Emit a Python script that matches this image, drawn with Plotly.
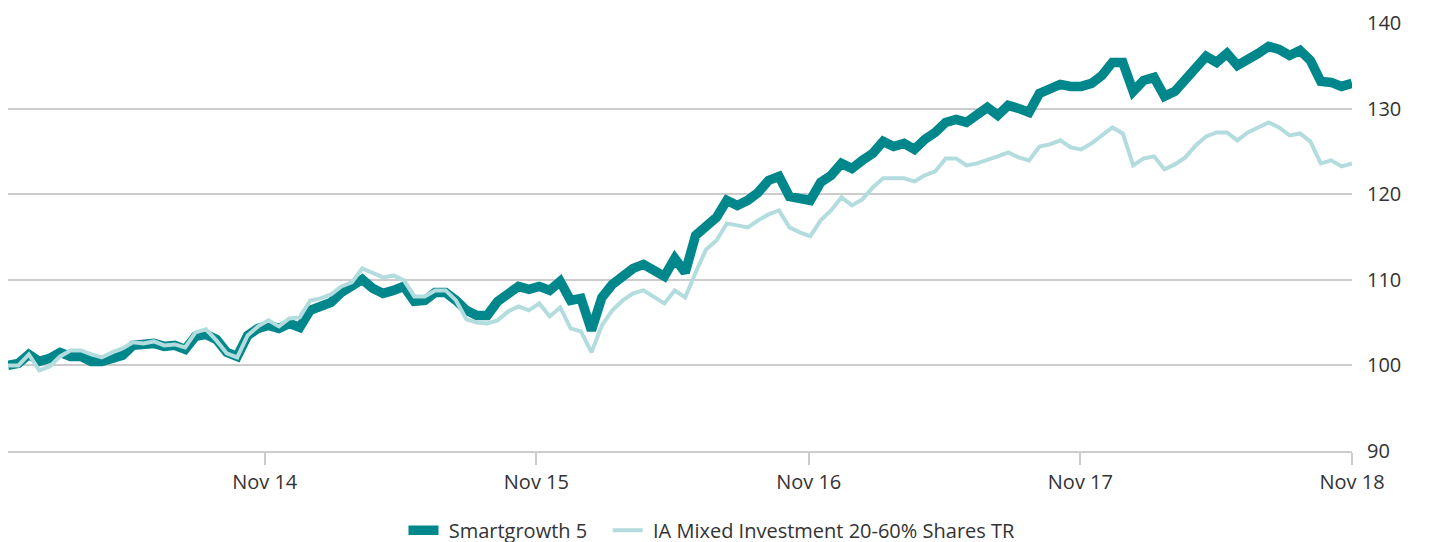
import pandas as pd
import plotly.graph_objects as go

# Fortnightly observation dates
dates = pd.date_range("2013-12-06", periods=130, freq="14D")

smartgrowth_5 = [
    100.00, 100.23, 101.29, 100.47, 100.82, 101.52, 101.05, 101.05, 100.47, 100.47,
    100.82, 101.17, 102.34, 102.45, 102.57, 102.22, 102.34, 101.87, 103.39, 103.62,
    103.04, 101.52, 101.05, 103.50, 104.32, 104.67, 104.32, 104.91, 104.44, 106.43,
    106.78, 107.36, 108.53, 109.23, 110.05, 109.00, 108.41, 108.76, 109.23, 107.48,
    107.59, 108.53, 108.53, 107.59, 106.43, 105.84, 105.84, 107.48, 108.29, 109.23,
    108.88, 109.23, 108.76, 109.81, 107.59, 107.83, 104.09, 107.94, 109.46, 110.40,
    111.33, 111.80, 111.10, 110.40, 112.50, 110.86, 115.19, 116.24, 117.29, 119.28,
    118.69, 119.28, 120.21, 121.61, 122.08, 119.74, 119.39, 119.28, 121.38, 122.20,
    123.60, 123.01, 123.95, 124.77, 126.17, 125.58, 125.93, 125.23, 126.40, 127.22,
    128.39, 128.74, 128.39, 129.21, 130.14, 129.21, 130.37, 130.02, 129.56, 131.78,
    132.36, 132.83, 132.59, 132.59, 132.94, 133.88, 135.40, 135.40, 132.01, 133.29,
    133.64, 131.43, 132.01, 133.29, 134.58, 136.10, 135.40, 136.45, 135.05, 135.63,
    136.45, 137.27, 136.92, 136.21, 136.80, 135.63, 133.18, 133.06, 132.59, 132.94,
]

ia_mixed_20_60 = [
    100.00, 100.00, 101.29, 99.42, 99.88, 101.05, 101.75, 101.75, 101.29, 100.93,
    101.52, 101.99, 102.69, 102.57, 102.80, 102.34, 102.45, 102.10, 103.86, 104.21,
    102.92, 101.40, 100.93, 103.50, 104.56, 105.26, 104.56, 105.49, 105.61, 107.59,
    107.83, 108.29, 109.23, 109.70, 111.33, 110.86, 110.28, 110.51, 109.93, 108.06,
    108.06, 108.76, 108.76, 107.59, 105.37, 105.02, 104.91, 105.26, 106.31, 106.89,
    106.43, 107.24, 105.72, 106.78, 104.32, 103.97, 101.52, 104.67, 106.43, 107.59,
    108.41, 108.76, 107.94, 107.24, 108.76, 107.94, 110.86, 113.55, 114.60, 116.59,
    116.36, 116.12, 116.94, 117.64, 118.11, 116.12, 115.54, 115.07, 116.94, 118.11,
    119.63, 118.69, 119.39, 120.79, 121.85, 121.85, 121.85, 121.50, 122.20, 122.66,
    124.18, 124.18, 123.36, 123.60, 123.95, 124.42, 124.88, 124.30, 123.95, 125.58,
    125.82, 126.29, 125.47, 125.23, 125.93, 126.87, 127.80, 127.10, 123.36, 124.18,
    124.42, 122.90, 123.48, 124.30, 125.70, 126.75, 127.22, 127.22, 126.29, 127.22,
    127.80, 128.39, 127.80, 126.87, 127.10, 126.17, 123.60, 123.95, 123.25, 123.60,
]

series_names = ["Smartgrowth 5", "IA Mixed Investment 20-60% Shares TR"]
tick_dates = ["2014-11-16", "2015-11-16", "2016-11-16", "2017-11-16", "2018-11-16"]
tick_labels = ["Nov 14", "Nov 15", "Nov 16", "Nov 17", "Nov 18"]
y_ticks = [90, 100, 110, 120, 130, 140]

DARK = "#00878C"
LIGHT = "#B2DCDD"
FONT = "Open Sans"
TEXT = "#333333"
GRID = "#cccccc"
NB = "\u00a0"

fig = go.Figure()
fig.add_trace(go.Scatter(
    x=dates, y=smartgrowth_5, mode="lines", name=NB + series_names[0] + NB * 3,
    line=dict(color=DARK, width=9.5),
))
fig.add_trace(go.Scatter(
    x=dates, y=ia_mixed_20_60, mode="lines", name=NB + series_names[1],
    line=dict(color=LIGHT, width=4),
))

fig.update_layout(
    width=1431, height=542,
    margin=dict(l=0, r=87, t=15, b=99),
    paper_bgcolor="white", plot_bgcolor="white",
    font=dict(family=FONT, size=20, color=TEXT),
    showlegend=True,
    legend=dict(orientation="h", x=0.5238, xanchor="center", y=-0.185, yanchor="middle",
                font=dict(family=FONT, size=20, color=TEXT),
                itemwidth=30, tracegroupgap=0),
)
fig.update_xaxes(
    range=[dates[0], dates[-1]],
    tickvals=tick_dates, ticktext=tick_labels,
    showgrid=False, zeroline=False,
    showline=True, linecolor=GRID, linewidth=2,
    ticks="outside", ticklen=12, tickwidth=2, tickcolor=GRID,
    tickfont=dict(family=FONT, size=20, color=TEXT),
)
fig.update_yaxes(
    range=[90, 140], tickvals=y_ticks, side="right",
    showgrid=True, gridcolor=GRID, gridwidth=2,
    zeroline=False, showline=False, ticks="",
    ticklabelstandoff=14,
    tickfont=dict(family=FONT, size=20, color=TEXT),
)

fig.write_html("out.html")
